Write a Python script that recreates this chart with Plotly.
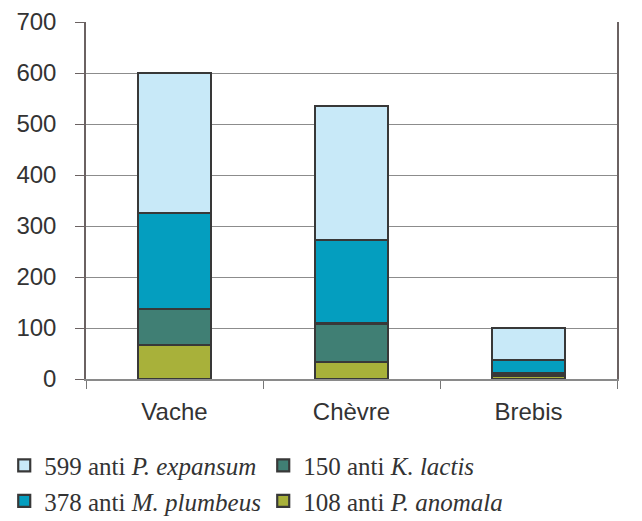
import plotly.graph_objects as go

categories = ["Vache", "Chèvre", "Brebis"]
anomala = [67, 34, 7]
lactis = [70, 75, 5]
plumbeus = [188, 164, 26]
expansum = [275, 262, 62]

series = [
    ("108 anti <i>P. anomala</i>", anomala, "#A8B13A", 4),
    ("150 anti <i>K. lactis</i>", lactis, "#407F74", 2),
    ("378 anti <i>M. plumbeus</i>", plumbeus, "#049EBF", 3),
    ("599 anti <i>P. expansum</i>", expansum, "#C8E9F8", 1),
]

fig = go.Figure()
for name, vals, color, rank in series:
    fig.add_trace(go.Bar(
        x=categories, y=vals, name=name, legendrank=rank,
        marker=dict(color=color, line=dict(color="#383838", width=2.2)),
    ))

axis_font = dict(family="Liberation Sans, Arial, sans-serif", size=24, color="#333333")

fig.update_layout(
    width=642, height=521,
    barmode="stack", bargap=0.59,
    plot_bgcolor="white", paper_bgcolor="white",
    margin=dict(l=86, r=25, t=22, b=142, autoexpand=False),
    showlegend=True,
    legend=dict(
        orientation="h", traceorder="normal",
        x=-0.154, y=-0.178, xanchor="left", yanchor="top",
        entrywidth=214, entrywidthmode="pixels",
        font=dict(family="Liberation Serif, Times New Roman, serif", size=25, color="#333333"),
    ),
    xaxis=dict(
        type="category", tickson="boundaries", ticks="outside", ticklen=8,
        tickcolor="#777777", showline=True, linecolor="#8a8a8a", linewidth=1.5,
        tickfont=axis_font, showgrid=False, ticklabelstandoff=10,
    ),
    yaxis=dict(
        range=[0, 700], dtick=100, ticks="outside", ticklen=9, tickcolor="#6b6262",
        showline=True, linecolor="#6b6262", linewidth=1.5, mirror=True,
        gridcolor="#8c8c8c", gridwidth=1, tickfont=axis_font,
        ticklabelstandoff=14, zeroline=False,
    ),
)

fig.write_html(
    "out.html",
    config={"displayModeBar": False},
    post_script="document.body.style.margin='0';document.body.style.overflow='hidden';",
)
